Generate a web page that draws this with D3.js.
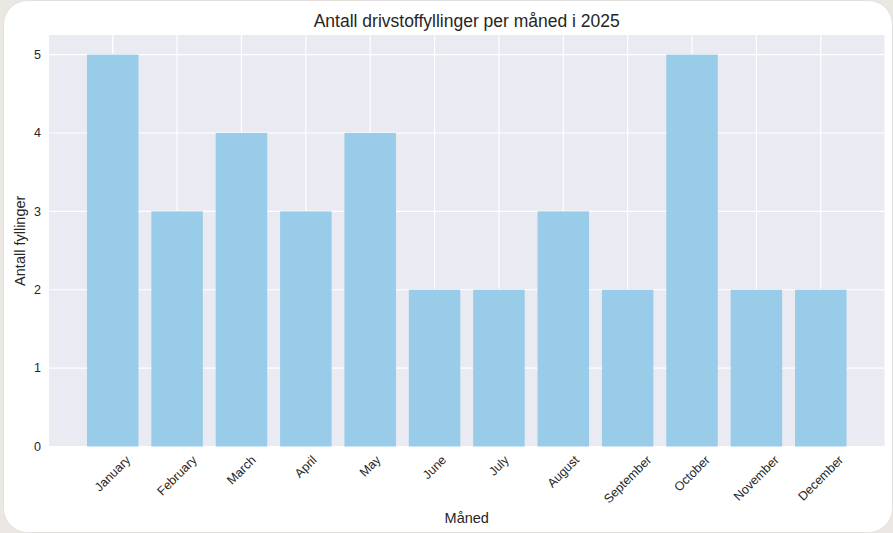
<!DOCTYPE html>
<html><head><meta charset="utf-8">
<script src="https://cdn.jsdelivr.net/npm/d3@7"></script>
<style>
html,body{margin:0;padding:0;background:#ebe7e3;}
svg{display:block;}
text{font-family:"Liberation Sans",Arial,sans-serif;fill:#262626;}
</style></head>
<body>
<svg id="c" width="893" height="533"></svg>
<script>
const months = ["January","February","March","April","May","June","July","August","September","October","November","December"];
const counts = [5,3,4,3,4,2,2,3,2,5,2,2];
const yTicks = [0,1,2,3,4,5];
const title = "Antall drivstoffyllinger per måned i 2025";
const xLabel = "Måned";
const yLabel = "Antall fyllinger";

const svg = d3.select("#c");
svg.append("rect").attr("x",3.5).attr("y",0.5).attr("width",889).attr("height",532)
  .attr("rx",24).attr("fill","#fff").attr("stroke","#e2e0de");

const L=49, R=884.5, T=35, B=446.5;
const x = d3.scaleLinear().domain([-0.99, 11.99]).range([L,R]);
const y = d3.scaleLinear().domain([0,5.25]).range([B,T]);
const bw = x(0.4)-x(-0.4);

svg.append("rect").attr("x",L).attr("y",T).attr("width",R-L).attr("height",B-T).attr("fill","#eaeaf2");

const g = svg.append("g");
g.selectAll("line.v").data(months).enter().append("line")
  .attr("x1",(d,i)=>x(i)).attr("x2",(d,i)=>x(i)).attr("y1",T).attr("y2",B)
  .attr("stroke","#fff").attr("stroke-width",1.2);
g.selectAll("line.h").data(yTicks).enter().append("line")
  .attr("x1",L).attr("x2",R).attr("y1",d=>y(d)).attr("y2",d=>y(d))
  .attr("stroke","#fff").attr("stroke-width",1.2);

g.selectAll("rect.bar").data(counts).enter().append("rect")
  .attr("x",(d,i)=>x(i)-bw/2).attr("width",bw)
  .attr("y",d=>y(d)).attr("height",d=>y(0)-y(d))
  .attr("fill","#99cce8");

// y ticks
svg.selectAll("text.yt").data(yTicks).enter().append("text")
  .attr("x",L-8).attr("y",d=>y(d)).attr("dy","0.35em")
  .attr("text-anchor","end").attr("font-size",12.5).text(d=>d);

// x ticks rotated
months.forEach((m,i)=>{
  const t = svg.append("text").attr("font-size",12.5).attr("text-anchor","middle")
    .attr("dominant-baseline","central").text(m);
  const w = t.node().getComputedTextLength();
  const h = 12.5;
  const bb = (w+h)*Math.SQRT1_2;
  const cx = x(i), cy = B + 7 + bb/2;
  t.attr("transform",`translate(${cx},${cy}) rotate(-45)`);
});

svg.append("text").attr("x",(L+R)/2).attr("y",27).attr("text-anchor","middle")
  .attr("font-size",17.5).text(title);
svg.append("text").attr("x",(L+R)/2).attr("y",523).attr("text-anchor","middle")
  .attr("font-size",14.5).text(xLabel);
svg.append("text").attr("transform",`translate(25,${(T+B)/2}) rotate(-90)`)
  .attr("text-anchor","middle").attr("font-size",14.5).text(yLabel);
</script>
</body></html>
